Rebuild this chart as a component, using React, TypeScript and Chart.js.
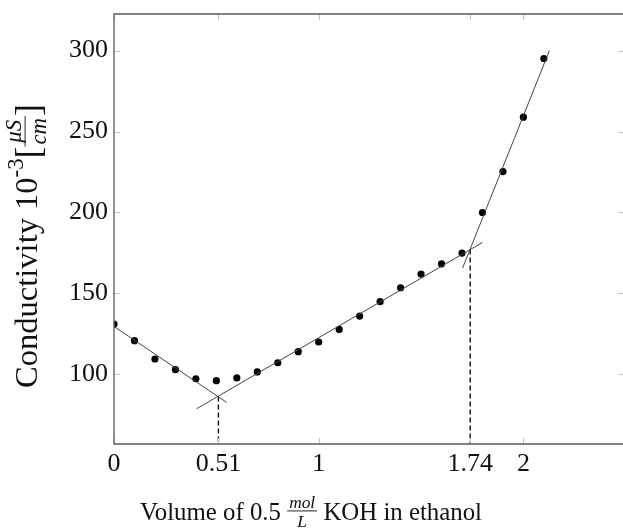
import React, { useEffect, useRef } from "react";
import { Chart, registerables } from "chart.js";

Chart.register(...registerables);

// ---- data ----
const volumes = [0, 0.1, 0.2, 0.3, 0.4, 0.5, 0.6, 0.7, 0.8, 0.9, 1.0, 1.1, 1.2, 1.3, 1.4, 1.5, 1.6, 1.7, 1.8, 1.9, 2.0, 2.1];
const conductivity = [131.1, 120.8, 109.5, 102.9, 97.3, 96.1, 97.8, 101.5, 107.2, 114.0, 120.0, 127.8, 136.0, 144.9, 153.5, 162.0, 168.3, 174.9, 200.0, 225.3, 258.9, 295.1];

const fitLeftX = [0, 0.55];
const fitLeftY = [129.6, 82.7];
const fitMidX = [0.404, 1.8];
const fitMidY = [78.8, 181.5];
const fitRightX = [1.703, 2.127];
const fitRightY = [165.7, 300.0];

const equivX = [0.51, 1.74];
const equivY = [86.4, 177.2];

const xTicks = [0, 0.51, 1, 1.74, 2];
const yTicks = [100, 150, 200, 250, 300];

const X_MIN = 0;
const X_MAX = 2.467;
const Y_MIN = 57.0;
const Y_MAX = 322.6;

const FONT = "'Liberation Serif', 'Times New Roman', serif";

const pts = (xs: number[], ys: number[]) => xs.map((x, i) => ({ x, y: ys[i] }));

const framePlugin = {
  id: "frameAndTitles",
  afterDatasetsDraw(chart: any) {
    const ctx = chart.ctx as CanvasRenderingContext2D;
    const { left, right, top, bottom } = chart.chartArea;
    const xs = chart.scales.x;
    const ys = chart.scales.y;
    ctx.save();
    ctx.strokeStyle = "#c4c4c4";
    ctx.lineWidth = 1;
    const tl = 6;
    const rEdge = chart.width;
    for (const v of xTicks) {
      const px = Math.round(xs.getPixelForValue(v)) + 0.5;
      ctx.beginPath();
      ctx.moveTo(px, top);
      ctx.lineTo(px, top + tl);
      ctx.moveTo(px, bottom);
      ctx.lineTo(px, bottom - tl);
      ctx.stroke();
    }
    for (const v of yTicks) {
      const py = Math.round(ys.getPixelForValue(v)) + 0.5;
      ctx.beginPath();
      ctx.moveTo(left, py);
      ctx.lineTo(left + tl, py);
      ctx.moveTo(rEdge + 1, py);
      ctx.lineTo(rEdge - 5, py);
      ctx.stroke();
    }
    ctx.strokeStyle = "#5a5a5a";
    ctx.lineWidth = 1.3;
    ctx.beginPath();
    ctx.moveTo(rEdge + 2, top);
    ctx.lineTo(left, top);
    ctx.lineTo(left, bottom);
    ctx.lineTo(rEdge + 2, bottom);
    ctx.stroke();
    ctx.restore();
  },
  afterDraw(chart: any) {
    const ctx = chart.ctx as CanvasRenderingContext2D;
    ctx.save();
    ctx.fillStyle = "#111";
    ctx.strokeStyle = "#111";
    ctx.textBaseline = "alphabetic";
    ctx.textAlign = "left";

    // ---- x title ----
    {
      const t1 = "Volume of 0.5 ";
      const num = "mol";
      const den = "L";
      const t2 = " KOH in ethanol";
      const measure = (s: number) => {
        ctx.font = `${s}px ${FONT}`;
        const w1 = ctx.measureText(t1).width;
        const w2 = ctx.measureText(t2).width;
        ctx.font = `italic ${s * 0.7}px ${FONT}`;
        const wn = ctx.measureText(num).width;
        const wd = ctx.measureText(den).width;
        const wf = Math.max(wn, wd) + 4;
        return { w1, w2, wn, wd, wf, total: w1 + wf + w2 };
      };
      const target = 342;
      const m0 = measure(26);
      const s = (26 * target) / m0.total;
      const m = measure(s);
      const k = s / 26;
      const cx = 311;
      const base = 520;
      let x = cx - m.total / 2;
      ctx.font = `${s}px ${FONT}`;
      ctx.fillText(t1, x, base);
      x += m.w1;
      ctx.font = `italic ${s * 0.7}px ${FONT}`;
      ctx.fillText(num, x + (m.wf - m.wn) / 2, base - 13 * k);
      ctx.fillText(den, x + (m.wf - m.wd) / 2, base + 7 * k);
      ctx.lineWidth = 0.9;
      ctx.beginPath();
      ctx.moveTo(x, base - 9.5 * k);
      ctx.lineTo(x + m.wf, base - 9.5 * k);
      ctx.stroke();
      x += m.wf;
      ctx.font = `${s}px ${FONT}`;
      ctx.fillText(t2, x, base);
    }

    // ---- y title (rotated) ----
    {
      const t1 = "Conductivity 10";
      const sup = "-3";
      const lb = "[";
      const num = "μS";
      const den = "cm";
      const rb = "]";
      const measure = (s: number) => {
        ctx.font = `${s}px ${FONT}`;
        const w1 = ctx.measureText(t1).width;
        ctx.font = `${s * 0.7}px ${FONT}`;
        const ws = ctx.measureText(sup).width;
        ctx.font = `${s * 1.1}px ${FONT}`;
        const wlb = ctx.measureText(lb).width;
        const wrb = ctx.measureText(rb).width;
        ctx.font = `italic ${s * 0.7}px ${FONT}`;
        const wn = ctx.measureText(num).width;
        const wd = ctx.measureText(den).width;
        const wf = Math.max(wn, wd) + 4;
        return { w1, ws, wlb, wrb, wn, wd, wf, total: w1 + ws + wlb + wf + wrb };
      };
      const target = 285;
      const m0 = measure(26);
      const s = (26 * target) / m0.total;
      const m = measure(s);
      const k = s / 26;
      ctx.translate(37, 246);
      ctx.rotate(-Math.PI / 2);
      let u = -m.total / 2;
      ctx.font = `${s}px ${FONT}`;
      ctx.fillText(t1, u, 0);
      u += m.w1;
      ctx.font = `${s * 0.7}px ${FONT}`;
      ctx.fillText(sup, u, -11 * k);
      u += m.ws;
      ctx.font = `${s * 1.1}px ${FONT}`;
      ctx.fillText(lb, u, 2 * k);
      u += m.wlb;
      ctx.font = `italic ${s * 0.7}px ${FONT}`;
      ctx.fillText(num, u + (m.wf - m.wn) / 2, -13 * k);
      ctx.fillText(den, u + (m.wf - m.wd) / 2, 7 * k);
      ctx.lineWidth = 0.9;
      ctx.beginPath();
      ctx.moveTo(u, -9.5 * k);
      ctx.lineTo(u + m.wf, -9.5 * k);
      ctx.stroke();
      u += m.wf;
      ctx.font = `${s * 1.1}px ${FONT}`;
      ctx.fillText(rb, u, 2 * k);
    }
    ctx.restore();
  },
};

export default function App() {
  const ref = useRef<HTMLCanvasElement | null>(null);

  useEffect(() => {
    document.body.style.margin = "0";
    const canvas = ref.current;
    if (!canvas) return;
    const lineStyle = {
      type: "line" as const,
      borderColor: "#444444",
      borderWidth: 1,
      pointRadius: 0,
      fill: false,
      tension: 0,
    };
    const chart = new Chart(canvas, {
      type: "scatter",
      data: {
        datasets: [
          { ...lineStyle, label: "fit 1", data: pts(fitLeftX, fitLeftY) },
          { ...lineStyle, label: "fit 2", data: pts(fitMidX, fitMidY) },
          { ...lineStyle, label: "fit 3", data: pts(fitRightX, fitRightY) },
          {
            ...lineStyle,
            label: "equivalence 1",
            data: [
              { x: equivX[0], y: equivY[0] },
              { x: equivX[0], y: Y_MIN },
            ],
            borderColor: "#111",
            borderWidth: 1.4,
            borderDash: [5, 3],
          },
          {
            ...lineStyle,
            label: "equivalence 2",
            data: [
              { x: equivX[1], y: equivY[1] },
              { x: equivX[1], y: Y_MIN },
            ],
            borderColor: "#111",
            borderWidth: 1.4,
            borderDash: [5, 3],
          },
          {
            label: "measured",
            data: pts(volumes, conductivity),
            backgroundColor: "#000",
            borderColor: "#000",
            pointRadius: 3.6,
            pointBorderWidth: 0,
            showLine: false,
          },
        ],
      },
      options: {
        animation: false,
        responsive: false,
        maintainAspectRatio: false,
        layout: { padding: { top: 14, right: 0, left: 0, bottom: 0 } },
        plugins: {
          legend: { display: false },
          tooltip: { enabled: false },
        },
        scales: {
          x: {
            type: "linear",
            min: X_MIN,
            max: X_MAX,
            grid: { display: false, drawTicks: false },
            border: { display: false },
            afterBuildTicks: (s: any) => {
              s.ticks = xTicks.map((v) => ({ value: v }));
            },
            afterFit: (s: any) => {
              s.height = 87;
              s.paddingLeft = 0;
              s.paddingRight = 0;
            },
            ticks: {
              autoSkip: false,
              maxRotation: 0,
              padding: 5,
              color: "#111",
              font: { family: FONT, size: 26 },
              callback: (v: any) => String(v),
            },
          },
          y: {
            type: "linear",
            min: Y_MIN,
            max: Y_MAX,
            grid: { display: false, drawTicks: false },
            border: { display: false },
            afterBuildTicks: (s: any) => {
              s.ticks = yTicks.map((v) => ({ value: v }));
            },
            afterFit: (s: any) => {
              s.width = 114;
              s.paddingTop = 0;
              s.paddingBottom = 0;
            },
            ticks: {
              padding: 6,
              color: "#111",
              font: { family: FONT, size: 26 },
              callback: (v: any) => String(v),
            },
          },
        },
      },
      plugins: [framePlugin],
    });
    return () => chart.destroy();
  }, []);

  return (
    <div style={{ width: 623, height: 531, background: "#fff" }}>
      <canvas ref={ref} width={623} height={531} style={{ display: "block" }} />
    </div>
  );
}
